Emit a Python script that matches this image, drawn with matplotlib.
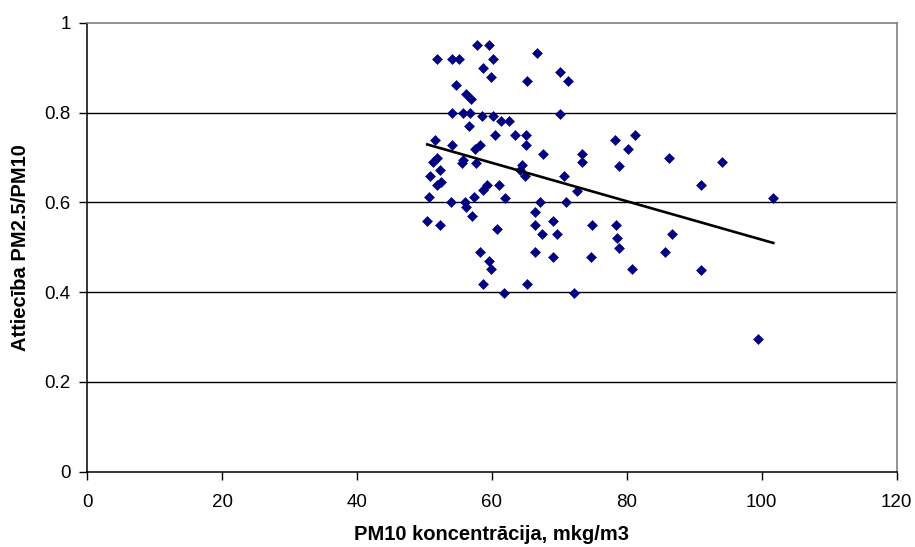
#!/usr/bin/env python3

import numpy as np
import matplotlib
matplotlib.use("Agg")
import matplotlib.pyplot as plt

plt.rcParams['font.family'] = ['Liberation Sans', 'DejaVu Sans']

# PM10 concentration (mkg/m3) and PM2.5/PM10 ratio
pm10 = [
    57.8, 59.5, 51.8, 54.0, 55.1, 60.2, 66.6, 58.7, 59.9, 65.2,
    54.6, 56.2, 56.9, 54.0, 55.7, 56.7, 58.5, 60.1, 61.3, 62.5,
    56.6, 51.5, 60.4, 63.4, 65.0, 65.0, 54.0, 57.5, 58.2, 51.8,
    51.3, 55.7, 55.5, 57.6, 64.4, 64.2, 64.9, 50.8, 52.3, 51.8,
    52.5, 50.6, 53.9, 56.0, 56.2, 57.3, 58.7, 59.2, 61.0, 62.0,
    57.1, 50.4, 52.3, 60.8, 58.2, 59.5, 59.8, 58.7, 61.8, 65.2,
    66.4, 67.1, 66.4, 66.4, 67.4, 70.1, 71.2, 70.1, 67.5, 73.3,
    73.3, 78.3, 81.2, 80.2, 78.9, 70.7, 72.6, 71.0, 69.1, 69.6,
    74.9, 78.4, 78.6, 78.9, 69.0, 74.7, 80.8, 72.1, 86.3, 94.1,
    91.0, 101.7, 86.7, 85.7, 91.0, 99.5,
]
ratio = [
    0.952, 0.952, 0.920, 0.920, 0.920, 0.920, 0.932, 0.900, 0.879, 0.871,
    0.862, 0.842, 0.830, 0.800, 0.800, 0.800, 0.792, 0.792, 0.782, 0.782,
    0.770, 0.740, 0.750, 0.750, 0.750, 0.728, 0.729, 0.720, 0.728, 0.700,
    0.690, 0.694, 0.689, 0.689, 0.683, 0.672, 0.659, 0.660, 0.672, 0.638,
    0.646, 0.612, 0.600, 0.600, 0.590, 0.612, 0.627, 0.638, 0.640, 0.611,
    0.569, 0.559, 0.549, 0.540, 0.490, 0.469, 0.451, 0.419, 0.398, 0.419,
    0.490, 0.600, 0.579, 0.549, 0.530, 0.890, 0.871, 0.798, 0.708, 0.709,
    0.690, 0.740, 0.750, 0.719, 0.681, 0.660, 0.626, 0.600, 0.559, 0.530,
    0.549, 0.549, 0.521, 0.499, 0.478, 0.478, 0.451, 0.398, 0.700, 0.690,
    0.638, 0.611, 0.530, 0.489, 0.450, 0.296,
]

x_ticks = [0, 20, 40, 60, 80, 100, 120]
y_ticks = [0, 0.2, 0.4, 0.6, 0.8, 1]
y_tick_labels = ['0', '0.2', '0.4', '0.6', '0.8', '1']


def main():
    x = np.array(pm10)
    y = np.array(ratio)

    fig = plt.figure(figsize=(9.15, 5.47), dpi=100)
    ax = fig.add_axes([0.0954, 0.1377, 0.8846, 0.8203])

    ax.set_xlim(0, 120)
    ax.set_ylim(0, 1)

    # horizontal gridlines
    for yt in y_ticks[1:-1]:
        ax.axhline(yt, color='black', lw=1.0, zorder=1)

    ax.plot(x, y, linestyle='none', marker='D', markersize=5.2,
            color='#000080', markeredgecolor='#000080', markeredgewidth=0.4,
            zorder=3)

    # linear trendline
    k, b = np.polyfit(x, y, 1)
    xt = np.array([x.min(), x.max()])
    ax.plot(xt, k * xt + b, color='black', lw=1.9, zorder=4)

    ax.set_xticks(x_ticks)
    ax.set_yticks(y_ticks)
    ax.set_yticklabels(y_tick_labels)
    ax.tick_params(axis='both', direction='out', length=6, width=1.0,
                   labelsize=13.5, color='black', pad=6)
    ax.tick_params(axis='x', pad=10)

    for side in ('left', 'bottom'):
        ax.spines[side].set_color('black')
        ax.spines[side].set_linewidth(1.1)
    for side in ('top', 'right'):
        ax.spines[side].set_color('#808080')
        ax.spines[side].set_linewidth(1.2)

    ax.set_xlabel('PM10 koncentrācija, mkg/m3', fontsize=14.5,
                  fontweight='bold', labelpad=10)
    ax.set_ylabel('Attiecība PM2.5/PM10', fontsize=14.5,
                  fontweight='bold', labelpad=10)

    fig.savefig('out.png', dpi=100)


if __name__ == "__main__":
    main()
